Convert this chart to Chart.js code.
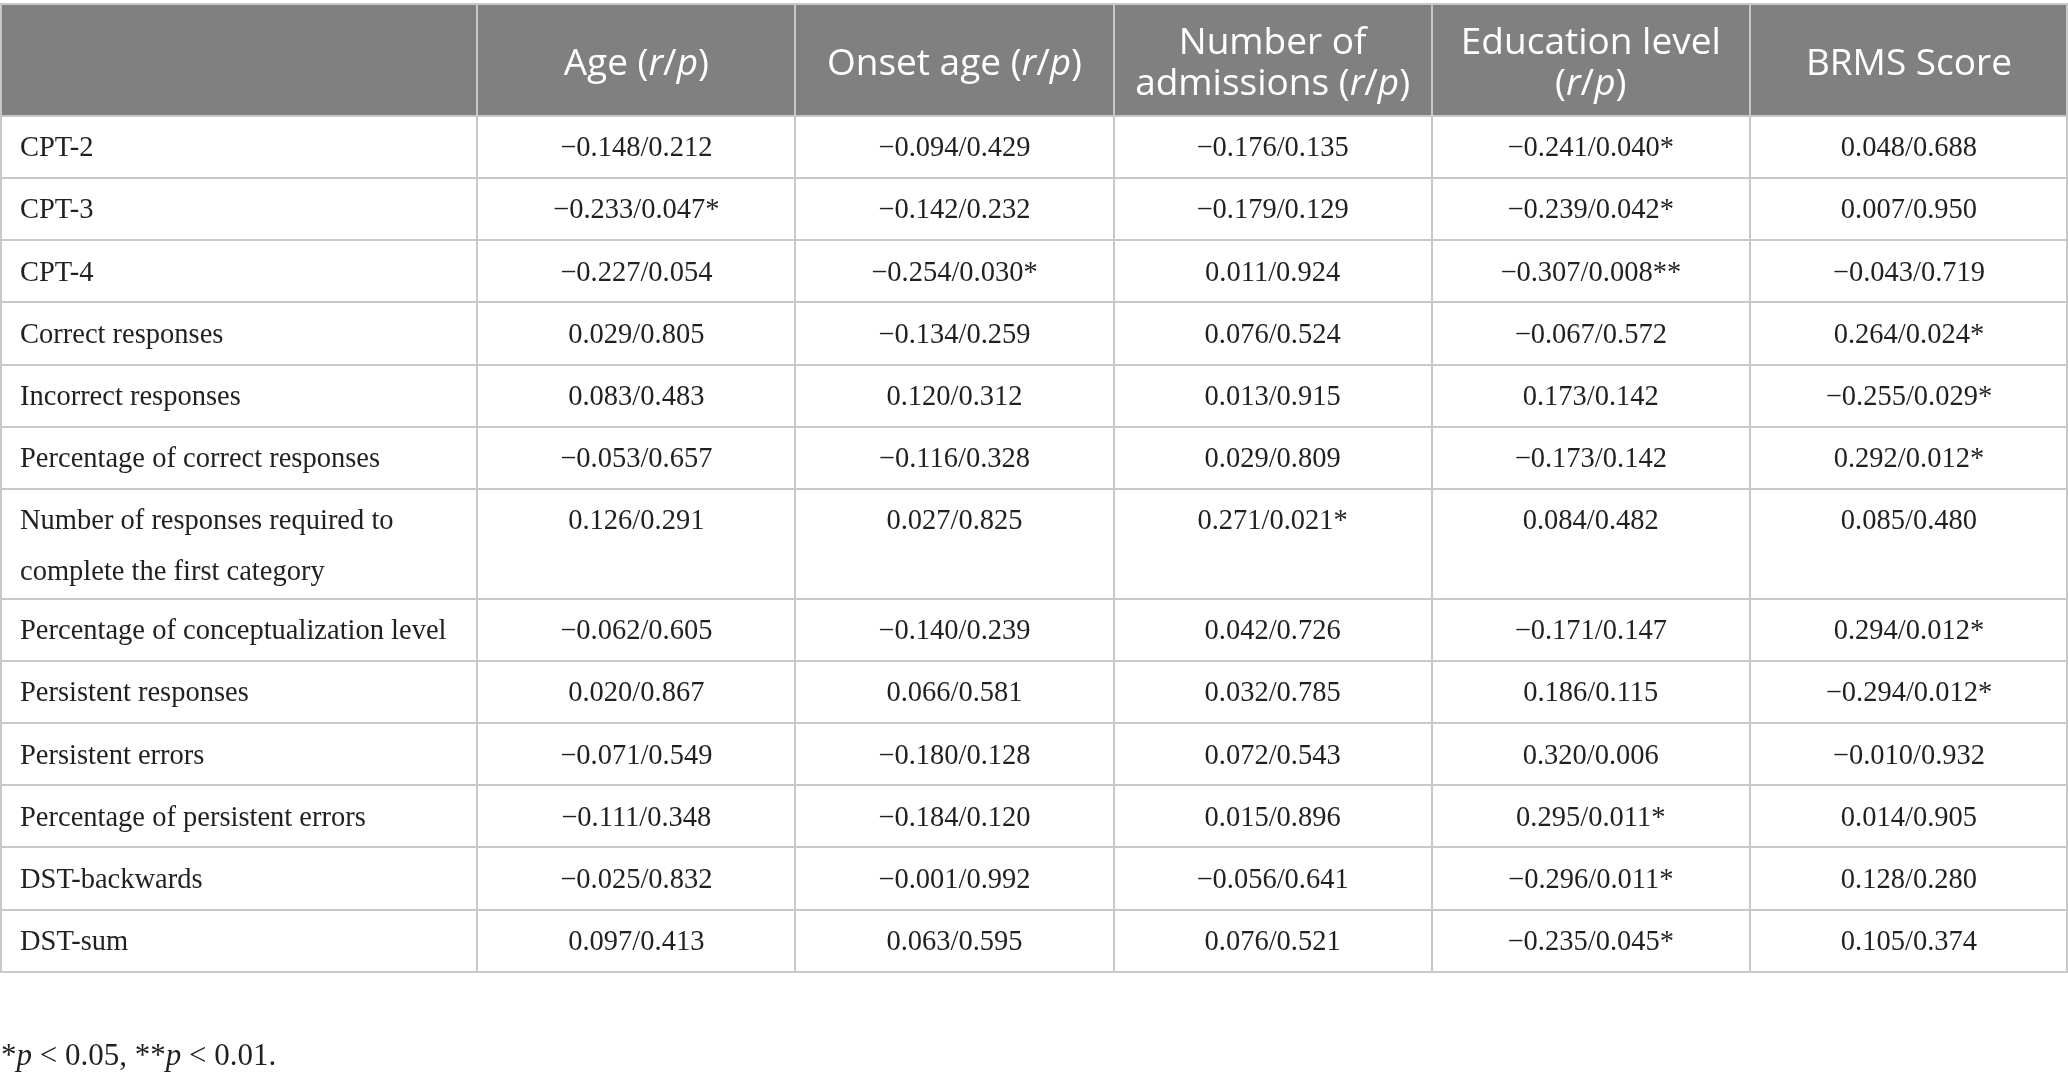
<!DOCTYPE html>
<html>
<head>
<meta charset="utf-8">
<script src="https://cdn.jsdelivr.net/npm/chart.js@4.4.1/dist/chart.umd.min.js"></script>
<style>
  html, body { margin: 0; padding: 0; background: #fff; }
  #wrap { width: 2068px; height: 1075px; }
</style>
</head>
<body>
<div id="wrap"><canvas id="corrTable"></canvas></div>
<script>
// column headers, "_" toggles italic
const columnHeaders = [
  [""],
  ["Age (_r_/_p_)"],
  ["Onset age (_r_/_p_)"],
  ["Number of", "admissions (_r_/_p_)"],
  ["Education level", "(_r_/_p_)"],
  ["BRMS Score"]
];

const rowLabels = [
  "CPT-2",
  "CPT-3",
  "CPT-4",
  "Correct responses",
  "Incorrect responses",
  "Percentage of correct responses",
  "Number of responses required to\ncomplete the first category",
  "Percentage of conceptualization level",
  "Persistent responses",
  "Persistent errors",
  "Percentage of persistent errors",
  "DST-backwards",
  "DST-sum"
];

const ageValues = ["−0.148/0.212", "−0.233/0.047*", "−0.227/0.054", "0.029/0.805", "0.083/0.483", "−0.053/0.657",
  "0.126/0.291", "−0.062/0.605", "0.020/0.867", "−0.071/0.549", "−0.111/0.348", "−0.025/0.832", "0.097/0.413"];
const onsetAgeValues = ["−0.094/0.429", "−0.142/0.232", "−0.254/0.030*", "−0.134/0.259", "0.120/0.312", "−0.116/0.328",
  "0.027/0.825", "−0.140/0.239", "0.066/0.581", "−0.180/0.128", "−0.184/0.120", "−0.001/0.992", "0.063/0.595"];
const admissionsValues = ["−0.176/0.135", "−0.179/0.129", "0.011/0.924", "0.076/0.524", "0.013/0.915", "0.029/0.809",
  "0.271/0.021*", "0.042/0.726", "0.032/0.785", "0.072/0.543", "0.015/0.896", "−0.056/0.641", "0.076/0.521"];
const educationValues = ["−0.241/0.040*", "−0.239/0.042*", "−0.307/0.008**", "−0.067/0.572", "0.173/0.142", "−0.173/0.142",
  "0.084/0.482", "−0.171/0.147", "0.186/0.115", "0.320/0.006", "0.295/0.011*", "−0.296/0.011*", "−0.235/0.045*"];
const brmsValues = ["0.048/0.688", "0.007/0.950", "−0.043/0.719", "0.264/0.024*", "−0.255/0.029*", "0.292/0.012*",
  "0.085/0.480", "0.294/0.012*", "−0.294/0.012*", "−0.010/0.932", "0.014/0.905", "0.128/0.280", "0.105/0.374"];

const footnote = "*_p_ < 0.05, **_p_ < 0.01.";

const valueColumns = [ageValues, onsetAgeValues, admissionsValues, educationValues, brmsValues];

// layout in scale units: x -> label column is 1.5 wide, others 1; y -> one plain row = 1
const colEdges = [0, 1.5, 2.5, 3.5, 4.5, 5.5, 6.5];
const tableTop = 0.065;
const headerH = 1.8;
const lineGap = 0.82;
const rowTops = [];
let yy = tableTop + headerH;
rowLabels.forEach(l => {
  rowTops.push(yy);
  yy += l.includes("\n") ? 1.77 : 1;
});
const tableBottom = yy;

const bodyFont = "28.5px 'Liberation Serif', 'Times New Roman', serif";
const headFont = "37px 'Open Sans', 'Noto Sans', sans-serif";
const noteFont = "31px 'Liberation Serif', 'Times New Roman', serif";

function drawRich(ctx, str, x, y, font, align) {
  const parts = str.split("_");
  const fonts = parts.map((p, i) => (i % 2 ? "italic " : "") + font);
  let total = 0;
  parts.forEach((p, i) => { ctx.font = fonts[i]; total += ctx.measureText(p).width; });
  let cx = align === "center" ? x - total / 2 : x;
  ctx.textAlign = "left";
  parts.forEach((p, i) => {
    ctx.font = fonts[i];
    ctx.fillText(p, cx, y);
    cx += ctx.measureText(p).width;
  });
}

const tablePlugin = {
  id: "tablePlugin",
  beforeDatasetsDraw(chart) {
    const { ctx, scales: { x, y } } = chart;
    const px = v => x.getPixelForValue(v);
    const py = v => y.getPixelForValue(v);
    ctx.save();
    // header band
    ctx.fillStyle = "#808080";
    ctx.fillRect(px(0), py(tableTop), px(6.5) - px(0), py(tableTop + headerH) - py(tableTop));

    // grid lines
    ctx.strokeStyle = "#c8c8c8";
    ctx.lineWidth = 2;
    ctx.beginPath();
    [tableTop, tableTop + headerH, ...rowTops.slice(1), tableBottom].forEach(v => {
      ctx.moveTo(px(0), Math.round(py(v)));
      ctx.lineTo(px(6.5), Math.round(py(v)));
    });
    colEdges.forEach((v, i) => {
      const xx = i === 0 ? px(v) + 1 : i === colEdges.length - 1 ? px(v) - 1 : Math.round(px(v));
      ctx.moveTo(xx, py(tableTop));
      ctx.lineTo(xx, py(tableBottom));
    });
    ctx.stroke();

    // header text
    ctx.fillStyle = "#ffffff";
    ctx.textBaseline = "middle";
    columnHeaders.forEach((lines, c) => {
      const cx = px((colEdges[c] + colEdges[c + 1]) / 2);
      const mid = tableTop + headerH / 2 + 0.065;
      const step = 0.66;
      lines.forEach((ln, k) => {
        const yv = mid + (k - (lines.length - 1) / 2) * step;
        drawRich(ctx, ln, cx, py(yv), headFont, "center");
      });
    });

    // row labels
    ctx.fillStyle = "#231f20";
    rowLabels.forEach((lab, r) => {
      lab.split("\n").forEach((ln, k) => {
        drawRich(ctx, ln, px(0) + 20, py(rowTops[r] + 0.53 + k * lineGap), bodyFont, "left");
      });
    });

    // footnote
    drawRich(ctx, footnote, px(0) + 1, py(17.0), noteFont, "left");
    ctx.restore();
  },
  afterDatasetsDraw(chart) {
    const { ctx } = chart;
    ctx.save();
    ctx.fillStyle = "#231f20";
    ctx.textBaseline = "middle";
    chart.data.datasets.forEach((ds, i) => {
      const meta = chart.getDatasetMeta(i);
      meta.data.forEach((pt, j) => {
        drawRich(ctx, ds.cellText[j], pt.x, pt.y, bodyFont, "center");
      });
    });
    ctx.restore();
  }
};

const datasets = valueColumns.map((col, c) => ({
  label: columnHeaders[c + 1].join(" ").replace(/_/g, ""),
  cellText: col,
  data: col.map((v, r) => ({ x: (colEdges[c + 1] + colEdges[c + 2]) / 2, y: rowTops[r] + 0.53 })),
  pointRadius: 0,
  pointHoverRadius: 0
}));

new Chart(document.getElementById("corrTable"), {
  type: "scatter",
  data: { datasets },
  options: {
    responsive: true,
    maintainAspectRatio: false,
    animation: false,
    events: [],
    layout: { padding: 0 },
    plugins: { legend: { display: false }, tooltip: { enabled: false } },
    scales: {
      x: { type: "linear", min: 0, max: 6.5, display: false },
      y: { type: "linear", min: 0, max: 1075 / 62.15, reverse: true, display: false }
    }
  },
  plugins: [tablePlugin]
});
</script>
</body>
</html>
